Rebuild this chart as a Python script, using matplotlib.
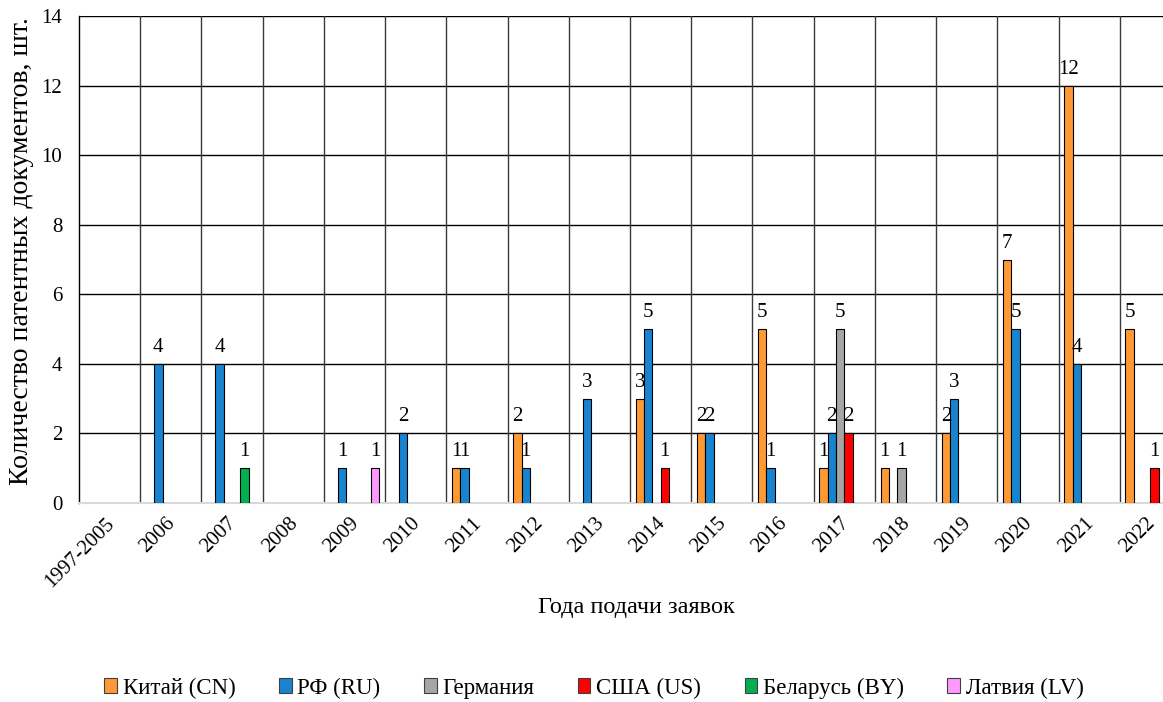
import numpy as np
import matplotlib
matplotlib.use("Agg")
import matplotlib.pyplot as plt
import matplotlib.transforms as mtransforms
from matplotlib.patches import Patch

plt.rcParams['font.family'] = ['Liberation Serif', 'DejaVu Serif']

years = ['1997-2005', '2006', '2007', '2008', '2009', '2010', '2011', '2012', '2013',
         '2014', '2015', '2016', '2017', '2018', '2019', '2020', '2021', '2022']

cn = [0, 0, 0, 0, 0, 0, 1, 2, 0, 3, 2, 5, 1, 1, 2, 7, 12, 5]
ru = [0, 4, 4, 0, 1, 2, 1, 1, 3, 5, 2, 1, 2, 0, 3, 5, 4, 0]
de = [0, 0, 0, 0, 0, 0, 0, 0, 0, 0, 0, 0, 5, 1, 0, 0, 0, 0]
us = [0, 0, 0, 0, 0, 0, 0, 0, 0, 1, 0, 0, 2, 0, 0, 0, 0, 1]
by = [0, 0, 1, 0, 0, 0, 0, 0, 0, 0, 0, 0, 0, 0, 0, 0, 0, 0]
lv = [0, 0, 0, 0, 1, 0, 0, 0, 0, 0, 0, 0, 0, 0, 0, 0, 0, 0]

series = [
    ('Китай (CN)', cn, '#FF9933'),
    ('РФ (RU)', ru, '#1884D0'),
    ('Германия', de, '#A6A6A6'),
    ('США (US)', us, '#FF0000'),
    ('Беларусь (BY)', by, '#00B050'),
    ('Латвия (LV)', lv, '#FF99FF'),
]

W, H = 1163, 702
fig = plt.figure(figsize=(W / 100, H / 100), dpi=100)
# plot area runs past the right edge of the figure
left, right, top, bottom = 79, 1181, 16, 503
ax = fig.add_axes([left / W, 1 - bottom / H, (right - left) / W, (bottom - top) / H])

x = np.arange(len(years))
bw = 0.136
for i, (name, vals, col) in enumerate(series):
    pos = x + (i - 2.5) * bw
    for p, v in zip(pos, vals):
        if v > 0:
            ax.bar(p, v, width=bw, color=col, edgecolor='black', linewidth=0.8, zorder=3)
            ax.annotate(str(v), (p, v), xytext=(0, 5), textcoords='offset points',
                        ha='center', va='bottom', fontsize=15, zorder=4)

ax.set_xlim(-0.5, len(years) - 0.5)
ax.set_ylim(0, 14)
ax.set_yticks(range(0, 15, 2))
ax.set_xticks(x)
ax.set_xticklabels(years, rotation=45, ha='right', rotation_mode='anchor', fontsize=15)
ax.tick_params(axis='both', length=0, labelsize=15)
ax.tick_params(axis='x', pad=8)
ax.tick_params(axis='y', pad=12)

# nudge the slanted year labels a little to the left
shift = mtransforms.ScaledTranslation(-5 / 100, 0, fig.dpi_scale_trans)
for lbl in ax.get_xticklabels():
    lbl.set_transform(lbl.get_transform() + shift)

# horizontal grid at every tick, vertical lines between the year groups
for yv in range(2, 15, 2):
    ax.axhline(yv, color='black', linewidth=1, zorder=1)
for xb in np.arange(0.5, len(years) - 0.5, 1):
    ax.axvline(xb, color='#3a3a3a', linewidth=1, zorder=1)

for s in ['top', 'right']:
    ax.spines[s].set_visible(False)
ax.spines['left'].set_color('black')
ax.spines['left'].set_linewidth(1)
ax.spines['bottom'].set_color('#D9D9D9')
ax.spines['bottom'].set_linewidth(1.5)

fig.text(22 / W, 1 - 251 / H, 'Количество патентных документов, шт.', rotation=90,
         ha='center', va='center', fontsize=20)
fig.text(636 / W, 1 - 607 / H, 'Года подачи заявок', ha='center', va='center', fontsize=17.5)

handles = [Patch(facecolor=c, edgecolor='#404040', linewidth=0.8, label=n) for n, _, c in series]
fig.legend(handles=handles, loc='center', bbox_to_anchor=(594 / W, 1 - 688 / H), ncol=6,
           frameon=False, fontsize=16.5, handlelength=0.55, handleheight=0.6,
           handletextpad=0.25, columnspacing=1.9)

fig.savefig('out.png', dpi=100)
